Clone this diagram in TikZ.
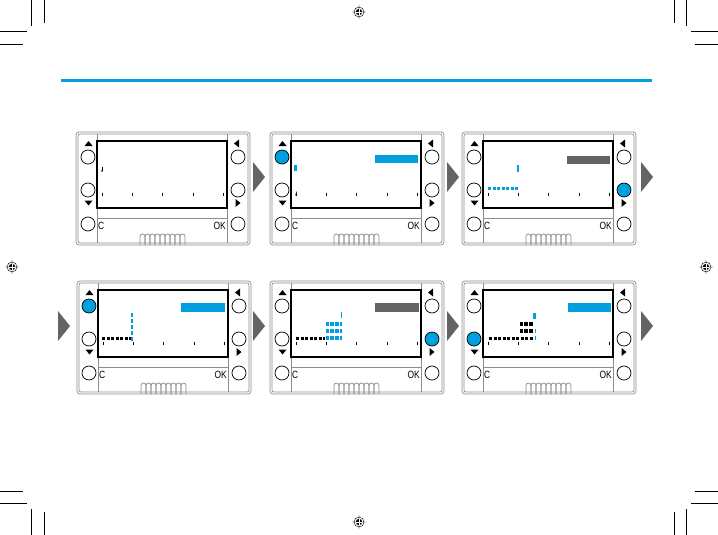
\documentclass[tikz,border=0pt]{standalone}
\usepackage{fontspec}
\setmainfont{Liberation Sans}
\newfontfamily\narrowfont[FakeStretch=0.8]{Liberation Sans}
\usetikzlibrary{arrows.meta}

\definecolor{lcdblue}{RGB}{0,160,222}
\definecolor{bargrey}{RGB}{100,100,100}
\definecolor{framegrey}{RGB}{140,140,140}

% #1 name, #2 x, #3 y, #4 number of the pressed knob
\newcommand{\keypad}[4]{%
\begin{scope}[shift={(#2,#3)}]
\draw[frame, rounded corners=3] (0,0) rectangle (174,113);
\draw[frame, rounded corners=2] (2,2) rectangle (172,111);
\draw[frame] (21,2) -- (21,111) (151,2) -- (151,111) (21,86) -- (151,86);
\draw[screen] (21,9) rectangle (151,76);
\foreach \t in {26,56,86,117,147} \draw[thin] (\t,60.5) -- (\t,63.5);
\foreach \k/\x/\y in {1/12/25,2/12/58,3/12/92,4/162/25,5/162/58,6/162/92}{
  \ifnum\k=#4 \def\kfill{lcdblue}\else\def\kfill{white}\fi
  \node[knob, fill=\kfill] (#1-k\k) at (\x,\y) {};}
\fill (12.5,9) -- (16.5,14) -- (8.5,14) -- cycle
      (12.5,73.5) -- (16.5,68.5) -- (8.5,68.5) -- cycle
      (158,11.5) -- (163,7.5) -- (163,15.5) -- cycle
      (164.5,71) -- (159.5,67) -- (159.5,75) -- cycle;
\node[keytext, anchor=west] (#1-c) at (22,94) {C};
\node[keytext, anchor=east] (#1-ok) at (150,94) {OK};
\foreach \s in {0,...,8}
  \draw[frame, rounded corners=2.4] (64+5*\s,113) -- (64+5*\s,102) -- (69+5*\s,102) -- (69+5*\s,113);
\end{scope}}

\begin{document}
\begin{tikzpicture}[x=1pt, y=-1pt,
  frame/.style={draw=framegrey, line width=0.7pt},
  screen/.style={draw=black, line width=1.2pt},
  knob/.style={circle, draw=black, line width=0.7pt, minimum size=14pt, inner sep=0pt},
  keytext/.style={font=\narrowfont\fontsize{10.5}{10.5}\selectfont, inner sep=0pt},
  bluebar/.style={fill=lcdblue},
  greybar/.style={fill=bargrey},
  blackdots/.style={line width=3pt, dash pattern=on 3.2pt off 1.3pt},
  bluedots/.style={lcdblue, line width=3pt, dash pattern=on 3.2pt off 1.3pt},
  nextstep/.style={fill=bargrey}]

\useasboundingbox (0,0) rectangle (718,535);

% crop marks and targets
\foreach \cx/\cy/\dx/\dy in {0/0/1/1, 718/0/-1/1, 0/535/1/-1, 718/535/-1/-1}{
  \draw[line width=0.6pt] (\cx+\dx*31.5,\cy) -- ++(0,\dy*26) (\cx+\dx*44,\cy) -- ++(0,\dy*23)
        (\cx,\cy+\dy*31.5) -- ++(\dx*27,0) (\cx,\cy+\dy*44) -- ++(\dx*23,0);}
\foreach \px/\py in {359/12, 12/267, 706/267, 359/522}{
  \draw[line width=0.4pt] (\px,\py) circle (5) (\px-7,\py) -- (\px+7,\py) (\px,\py-7) -- (\px,\py+7);
  \fill (\px,\py) circle (3.2);
  \draw[white, line width=0.5pt] (\px-3.2,\py) -- (\px+3.2,\py) (\px,\py-3.2) -- (\px,\py+3.2);}

\draw[lcdblue, line width=3pt] (61,81) -- (652,81);

% top row
\keypad{p1}{76}{132}{0}
\keypad{p2}{270}{132}{1}
\keypad{p3}{462}{132}{5}

\begin{scope}[shift={(76,132)}]
\draw[-{Stealth[length=1.6pt, width=2pt]}, line width=0.4pt] (26,35) -- (26,40);
\end{scope}

\begin{scope}[shift={(270,132)}]
\fill[bluebar] (105,23) rectangle (148,31);
\fill[bluebar] (24,33) rectangle (26.5,39);
\draw[thin] (25.4,63.5) -- (26.8,59.5);
\end{scope}

\begin{scope}[shift={(462,132)}]
\fill[greybar] (105,24) rectangle (148,32);
\fill[bluebar] (54.5,33) rectangle (56.5,40);
\draw[bluedots] (26,56) -- (57,56);
\end{scope}

% bottom row
\keypad{p4}{77}{281}{1}
\keypad{p5}{270}{281}{5}
\keypad{p6}{462}{281}{2}

\begin{scope}[shift={(77,281)}]
\fill[bluebar] (104,22) rectangle (148,31);
\draw[lcdblue, line width=1.3pt, dash pattern=on 4pt off 2pt] (55,32) -- (55,61);
\draw[blackdots] (25,57) -- (54,57);
\end{scope}

\begin{scope}[shift={(270,281)}]
\fill[greybar] (105,22) rectangle (149,31);
\fill[bluebar] (70.5,31) rectangle (72,37);
\foreach \r in {43,50,57}{
  \foreach \c in {0,1,2} \fill[bluebar] (55.5+4.8*\c,\r-2) rectangle ++(3.4,4);
  \fill[bluebar] (70.3,\r-2) rectangle ++(1.5,4);}
\draw[blackdots] (26,57) -- (54.5,57);
\end{scope}

\begin{scope}[shift={(462,281)}]
\fill[bluebar] (106,22) rectangle (149,31);
\fill[bluebar] (71,32) rectangle (73.5,38);
\foreach \r in {43,50}
  \foreach \c in {0,1,2} \fill (57.5+4.8*\c,\r-2) rectangle ++(3.4,4);
\draw[blackdots] (27,57) -- (71.5,57);
\foreach \r in {50,57} \fill[bluebar] (72.5,\r-2) rectangle ++(1.4,4);
\end{scope}

% step arrows
\foreach \ax/\ay in {253/177, 447/177, 641/177, 58/326, 253/326, 447/326, 641/326}
  \fill[nextstep] (\ax,\ay-15) -- (\ax+12,\ay) -- (\ax,\ay+15) -- cycle;

\end{tikzpicture}
\end{document}
